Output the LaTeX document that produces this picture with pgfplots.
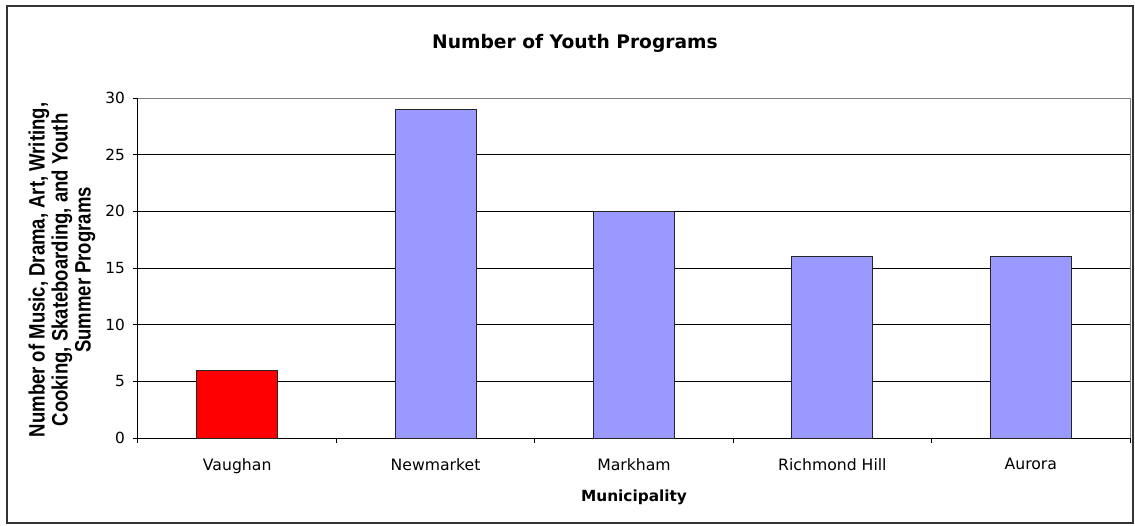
\documentclass[border=0pt]{standalone}
\usepackage{fontspec}
\setmainfont{DejaVu Sans}
\newfontfamily\lab{Liberation Sans}[BoldFont={Liberation Sans Bold}]
\usepackage{pgfplots}
\pgfplotsset{compat=1.18}
\definecolor{barblue}{RGB}{153,153,255}
\definecolor{barred}{RGB}{255,0,0}
\begin{document}
\begin{tikzpicture}
\useasboundingbox (-103.5pt,-65.25pt) rectangle (747.75pt,328.5pt);
\draw[line width=1.5pt, black!80] (-98.25pt,-63.75pt) rectangle (746.25pt,324pt);
\begin{axis}[
  at={(0,0)}, anchor=south west,
  scale only axis, width=744pt, height=255pt,
  xmin=-0.5, xmax=4.5, ymin=0, ymax=30,
  ytick={0,5,...,30},
  xtick={0,1,2,3,4},
  xticklabels={Vaughan,Newmarket,Markham,Richmond Hill,Aurora},
  minor xtick={-0.5,0.5,1.5,2.5,3.5,4.5},
  major x tick style={draw=none},
  tick align=outside, major tick length=3.75pt, minor tick length=3.75pt,
  tick style={black, line width=0.75pt},
  ymajorgrids, grid style={black, line width=0.75pt},
  axis x line*=bottom, axis y line*=left,
  axis line style={black, line width=0.75pt},
  ticklabel style={font=\fontsize{11.5}{13}\selectfont},
  y tick label style={xshift=-2.5pt},
  x tick label style={font=\fontsize{11.75}{13}\selectfont, yshift=-8pt},
  /pgf/number format/assume math mode=true,
  clip=false,
]
\draw[gray, line width=0.75pt] (rel axis cs:0,1) -- (rel axis cs:1,1) -- (rel axis cs:1,0);
\addplot[ybar, bar width=60.75pt, bar shift=0pt, fill=barred, draw=black!85, line width=0.75pt]
  coordinates {(0,6)};
\addplot[ybar, bar width=60.75pt, bar shift=0pt, fill=barblue, draw=black!85, line width=0.75pt]
  coordinates {(1,29) (2,20) (3,16) (4,16)};
\end{axis}
\node[rotate=90, inner sep=0pt] at (-56.25pt,126pt)
  {\scalebox{1}[1.2]{\lab\bfseries\fontsize{13.9}{14.4}\selectfont
   \begin{tabular}{@{}c@{}}Number of Music, Drama, Art, Writing,\\Cooking, Skateboarding, and Youth\\Summer Programs\end{tabular}}};
\node[font=\bfseries\fontsize{11.5}{13}\selectfont] at (372pt,-44.25pt) {Municipality};
\node[font=\bfseries\fontsize{14}{16}\selectfont] at (327.75pt,296pt) {Number of Youth Programs};
\end{tikzpicture}
\end{document}
